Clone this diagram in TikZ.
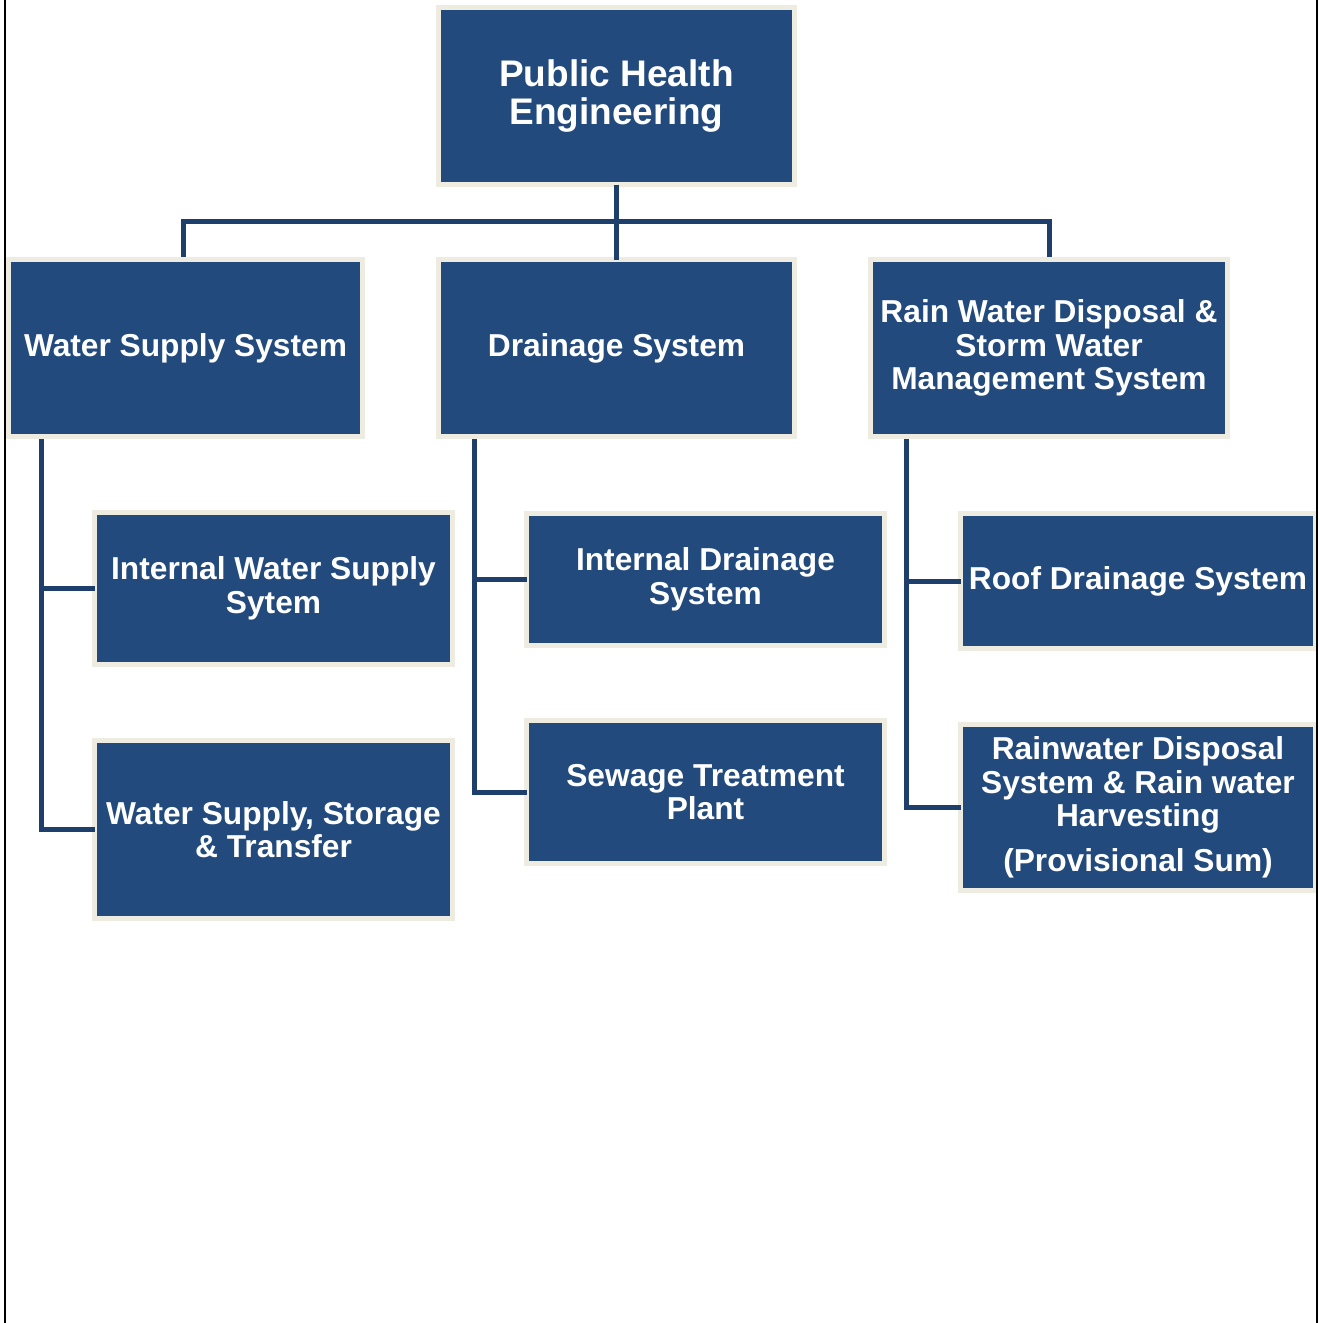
\documentclass[tikz,border=0pt]{standalone}
\usepackage{fontspec}
\setmainfont{Liberation Sans}
\definecolor{boxblue}{HTML}{224A7C}
\definecolor{boxedge}{HTML}{EEEBE0}
\definecolor{linkblue}{HTML}{1E3F6C}
\begin{document}
\begin{tikzpicture}[x=1pt,y=-1pt,
  box/.style={fill=boxblue, draw=boxedge, line width=5pt, inner sep=0pt, outer sep=0pt,
    text=white, align=center, font=\fontsize{31.7}{33.5}\selectfont\bfseries},
  topbox/.style={box, font=\fontsize{37}{38}\selectfont\bfseries},
  link/.style={draw=linkblue, line width=5pt}]
\useasboundingbox (0,0) rectangle (1320,1323);
\fill[white] (0,0) rectangle (1320,1323);

\coordinate (bus) at (616.5,221);
\coordinate (wsT) at (41,439);
\coordinate (drT) at (474,439);
\coordinate (rwT) at (906,439);
\coordinate (wsN) at (183,257);
\coordinate (rwN) at (1049,257);

\node[topbox, minimum width=356, minimum height=177] (top) at (616.5,96) {Public Health\\Engineering};
\node[box, minimum width=354, minimum height=177] (ws) at (185.5,348) {Water Supply System};
\node[box, minimum width=356, minimum height=177] (dr) at (616.5,348) {Drainage System};
\node[box, minimum width=357, minimum height=177] (rw) at (1049,348) {Rain Water Disposal \&\\Storm Water\\Management System};
\node[box, minimum width=358, minimum height=152] (iws) at (273.5,588.5) {Internal Water Supply\\Sytem};
\node[box, minimum width=358, minimum height=178] (wss) at (273.5,829.5) {Water Supply, Storage\\\& Transfer};
\node[box, minimum width=358, minimum height=132] (id) at (705.5,579.5) {Internal Drainage\\System};
\node[box, minimum width=358, minimum height=143] (stp) at (705.5,792) {Sewage Treatment\\Plant};
\node[box, minimum width=355, minimum height=135] (rd) at (1138,581) {Roof Drainage System};
\node[box, minimum width=355, minimum height=166] (rwd) at (1138,807.5) {Rainwater Disposal\\System \& Rain water\\Harvesting\\[11pt](Provisional Sum)};

\draw[link] (top.south) -- (dr.north);
\draw[link] (wsN) |- (bus) -| (rwN);
\draw[link] (wsT) |- (wss.west);
\draw[link] (iws.west -| wsT) -- (iws.west);
\draw[link] (drT) |- (stp.west);
\draw[link] (id.west -| drT) -- (id.west);
\draw[link] (rwT) |- (rwd.west);
\draw[link] (rd.west -| rwT) -- (rd.west);

\draw[black, line width=2pt] (5,0) -- (5,1323);
\draw[black, line width=2pt] (1317,0) -- (1317,1323);
\end{tikzpicture}
\end{document}
